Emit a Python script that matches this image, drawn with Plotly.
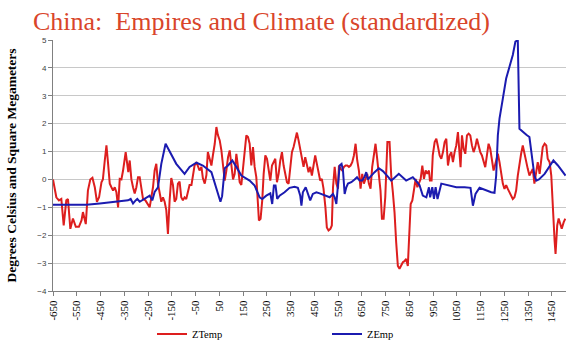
import plotly.graph_objects as go

# ZTemp (standardized temperature)
temp_years = [-650, -636, -625, -615, -605, -594, -587, -577, -566, -554, -541, -530, -524, -517, -512,
              -503, -493, -484, -474, -465, -456, -446, -440, -432, -425, -418, -411, -404, -397, -390,
              -383, -376, -369, -362, -355, -344, -338, -333, -327, -320, -313, -306, -299, -292, -285,
              -278, -271, -261, -250, -243, -236, -229, -222, -215, -208, -201, -194, -187, -180, -173,
              -166, -159, -152, -145, -138, -131, -124, -117, -110, -103, -96, -89, -82, -75, -67,
              -61, -54, -46, -40, -33, -25, -19, -11, -4, 2, 10, 17, 23, 31, 38,
              44, 52, 59, 66, 73, 80, 87, 94, 101, 108, 115, 122, 129, 136, 143,
              150, 157, 164, 171, 178, 185, 192, 199, 206, 213, 217, 224, 231, 237, 244,
              251, 258, 265, 272, 279, 286, 293, 300, 307, 314, 321, 328, 335, 342, 349,
              356, 363, 370, 377, 384, 391, 398, 405, 412, 419, 426, 433, 440, 447, 454,
              461, 468, 475, 482, 489, 497, 503, 510, 518, 524, 529, 536, 543, 550, 554,
              561, 568, 575, 582, 589, 596, 603, 610, 617, 624, 631, 638, 645, 652, 659,
              666, 673, 680, 687, 694, 701, 708, 715, 722, 729, 735, 742, 749, 753, 758,
              767, 774, 781, 788, 795, 802, 809, 816, 823, 830, 837, 844, 851, 856, 863,
              869, 877, 884, 890, 898, 905, 912, 919, 926, 933, 937, 944, 949, 957, 964,
              970, 978, 985, 992, 999, 1006, 1013, 1020, 1027, 1034, 1041, 1048, 1055, 1062, 1066,
              1072, 1079, 1086, 1093, 1100, 1107, 1114, 1121, 1128, 1135, 1142, 1149, 1156, 1163, 1170,
              1177, 1184, 1191, 1198, 1205, 1209, 1216, 1223, 1230, 1237, 1244, 1251, 1258, 1265, 1272,
              1279, 1286, 1293, 1300, 1307, 1314, 1321, 1328, 1335, 1343, 1349, 1356, 1364, 1370, 1377,
              1385, 1391, 1399, 1406, 1412, 1420, 1427, 1433, 1441, 1448, 1455, 1462, 1466, 1473, 1479,
              1486, 1492, 1500, 1507]
temp_values = [0, -0.64, -0.75, -0.7, -1.65, -0.75, -0.7, -1.77, -1.4, -1.7, -1.7, -1.47, -1.17, -1.47, -1.6,
               -0.4, 0, 0.06, -0.28, -0.8, -0.64, -0.1, 0, 0.68, 1.22, 0.56, -0.15, -0.28, -0.4, -0.28,
               -0.46, -1.0, 0.02, 0, 0.32, 0.98, 0.62, 0.26, 0.68, 0, -0.28, -0.5, -0.28, 0.08, 0.08,
               -0.34, -0.7, -0.75, -0.88, -1.0, -0.64, -0.28, 0.32, 0.56, -0.15, -0.5, -0.8, -0.64, -0.8, -1.1,
               -1.95, -0.75, 0.05, -0.2, -0.8, -0.7, -0.15, -0.08, -0.64, -0.75, -0.64, -0.7, -0.46, -0.2, -0.2,
               0.2, 0.5, 0.62, 0.45, 0.32, 0.45, 0.05, -0.15, 0.16, 0.98, 0.68, 0.5, 0.85, 1.28, 1.88,
               1.6, 1.4, 1.04, 0.5, -0.04, 0.32, 0.8, 1.04, 0.56, 0, 0.2, 0.92, 0.45, -0.1, -0.2,
               0.45, 1.16, 1.58, 1.52, 1.28, 0.5, 1.16, 0.45, 0.08, -0.88, -1.47, -1.41, -0.75, 0.2, 0.86,
               0.74, 0.26, -0.04, 0.5, 0.62, 0.74, -0.1, 0.2, 0.68, 0.98, 0.5, 0.14, -0.1, -0.15, 0.45,
               0.98, 1.16, 1.4, 1.68, 1.4, 1.04, 0.74, 0.45, 0.8, 0.45, 0.26, 0.45, 0.14, 0.5, 0.86,
               0.56, 0.2, -0.04, 0.02, -0.33, -1.0, -1.72, -1.83, -1.77, -1.65, -0.28, 0.45, -0.15, -0.33, 0.5,
               0.38, 0.32, 0.45, 0.5, 0.5, 0.45, 0.5, 0.62, 0.86, 1.28, 0.68, 0.32, -0.33, 0.2, -0.15,
               0, 0.2, -0.15, -0.33, 0.45, 0.86, 1.28, 0.74, 0.14, -0.4, -1.41, -1.41, -0.64, 0.68, 1.34,
               1.34, 0.14, -0.46, -1.18, -2.26, -3.1, -3.2, -3.1, -2.97, -2.93, -2.85, -3.1, -1.54, -0.88, -0.75,
               -0.34, 0.02, -0.28, -0.15, 0.02, 0.5, 0.02, 0.32, 0.2, 0.32, -0.04, -0.04, 0.86, 1.34, 1.46,
               1.22, 0.86, 0.74, 0.98, 1.34, 1.46, 0.5, 0.86, 0.98, 0.62, 0.98, 1.22, 1.7, 0.98, 0.44,
               1.58, 1.1, 0.92, 1.58, 1.64, 1.58, 1.22, 0.98, 1.16, 1.46, 1.22, 0.98, 0.86, 0.62, 0.44,
               0.86, 1.28, 1.1, 0.62, 0.32, 0.44, 0.74, 0.92, 0.62, 0.14, -0.15, -0.34, -0.2, -0.34, -0.46,
               -0.58, -0.7, -0.64, -0.4, 0.14, 0.62, 0.92, 1.22, 0.92, 0.5, 0.38, 0.14, 0.32, 0.38, -0.15,
               0.38, 0.62, 0.2, 0.86, 1.16, 1.28, 1.22, 0.74, 0.62, 0.14, -1.2, -2.2, -2.67, -1.65, -1.4,
               -1.6, -1.77, -1.54, -1.41]

# ZEmp (standardized empire area)
emp_years = [-650, -509, -453, -383, -334, -323, -313, -302, -295, -285, -264, -243, -232, -222, -208,
             -194, -176, -131, -96, -75, -46, -19, 17, 38, 55, 62, 68, 73, 87, 105,
             122, 143, 178, 199, 220, 231, 248, 265, 273, 280, 287, 294, 304, 325, 346,
             367, 381, 391, 396, 402, 414, 423, 433, 444, 459, 473, 494, 515, 529, 536,
             543, 550, 557, 565, 571, 578, 585, 592, 606, 620, 630, 641, 652, 662, 669,
             676, 690, 704, 722, 739, 760, 774, 788, 806, 837, 865, 880, 893, 907, 922,
             933, 938, 947, 954, 961, 969, 985, 1013, 1048, 1083, 1108, 1118, 1129, 1146, 1174,
             1195, 1209, 1216, 1223, 1230, 1244, 1258, 1272, 1286, 1297, 1307, 1314, 1321, 1343, 1356,
             1364, 1370, 1377, 1385, 1396, 1420, 1438, 1457, 1476, 1494, 1508]
emp_values = [-0.91, -0.91, -0.86, -0.8, -0.75, -0.7, -0.86, -0.75, -0.7, -0.8, -0.68, -0.58, -0.75, -0.45, -0.28,
              0.56, 1.28, 0.56, 0.2, 0.45, 0.6, 0.5, 0.26, -0.33, -0.8, -0.6, 0, 0.4, 0.5, 0.68,
              0.45, 0.14, -0.04, -0.22, -0.64, -0.7, -0.58, -0.5, -0.88, -0.22, -0.22, -0.7, -0.58, -0.46, -0.3,
              -0.26, -0.3, -0.58, -0.94, -0.46, -0.28, -0.52, -0.75, -0.52, -0.46, -0.5, -0.58, -0.64, -0.52, -0.64,
              -0.88, -0.15, 0.5, 0.56, 0.32, -0.52, -0.28, -0.15, -0.1, 0, 0.08, -0.04, -0.04, 0.1, 0.26,
              0, 0.14, 0.26, 0.4, 0.3, 0.1, -0.04, 0.06, 0.2, -0.04, 0.08, -0.06, -0.2, -0.58, -0.64,
              -0.28, -0.64, -0.28, -0.7, -0.28, -0.7, -0.15, -0.22, -0.28, -0.28, -0.3, -0.94, -0.52, -0.3, -0.4,
              -0.46, -0.48, 0.14, 1.58, 2.18, 2.9, 3.62, 4.04, 4.46, 4.94, 5.0, 1.82, 1.76, 1.6, 1.52,
              0.98, 0.56, 0.14, -0.04, 0, 0.2, 0.44, 0.68, 0.5, 0.32, 0.14]

x_tick_vals = list(range(-650, 1451, 100))
x_tick_text = [str(v) for v in x_tick_vals]
y_tick_vals = list(range(-4, 6))

serif = "Liberation Serif, Times New Roman, serif"
sans = "Liberation Sans, Arial, sans-serif"

fig = go.Figure()
fig.add_trace(go.Scatter(x=temp_years, y=temp_values, mode="lines", name="ZTemp",
                         line=dict(color="#dd1e1e", width=2)))
fig.add_trace(go.Scatter(x=emp_years, y=emp_values, mode="lines", name="ZEmp",
                         line=dict(color="#1b1bb0", width=2)))

fig.update_layout(
    width=576, height=348,
    margin=dict(l=53, r=10, t=40, b=57),
    paper_bgcolor="white", plot_bgcolor="white",
    title=dict(text="China:\u00a0 Empires and Climate (standardized)",
               font=dict(family=serif, size=26, color="#d9452a"),
               x=33 / 576, xanchor="left", xref="container",
               y=1 - 21 / 348, yanchor="middle", yref="container"),
    xaxis=dict(range=[-650, 1510], tickmode="array", tickvals=x_tick_vals, ticktext=x_tick_text,
               tickangle=-90, ticks="outside", ticklen=4, tickcolor="#808080",
               showline=True, linecolor="#808080", linewidth=1, showgrid=False, zeroline=False,
               automargin=False,
               tickfont=dict(family=serif, size=11, color="black")),
    yaxis=dict(range=[-4, 5], tickmode="array", tickvals=y_tick_vals,
               ticks="outside", ticklen=4, tickcolor="#808080",
               showline=True, linecolor="#808080", linewidth=1,
               showgrid=True, gridcolor="#c8c8c8", gridwidth=1, zeroline=False,
               automargin=False,
               tickfont=dict(family=sans, size=8, color="#404040"),
               title=dict(text="<b>Degrees Celsius and Square Megameters</b>",
                          font=dict(family=serif, size=13.5, color="black"), standoff=17)),
    legend=dict(orientation="h", xref="container", yref="container",
                x=152 / 576, xanchor="left", y=1 - 334 / 348, yanchor="middle",
                entrywidth=130, entrywidthmode="pixels", itemwidth=30,
                font=dict(family=serif, size=10.5, color="black")),
    showlegend=True,
)

fig.write_html("out.html")
